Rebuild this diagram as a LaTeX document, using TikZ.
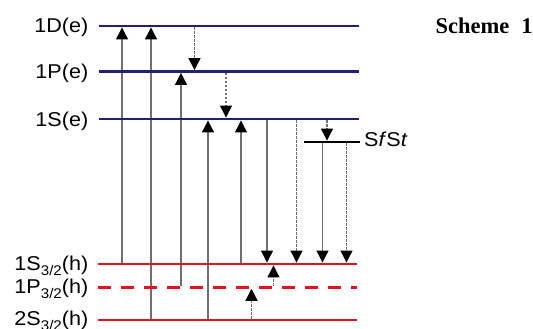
\documentclass[tikz,border=0pt]{standalone}
\usepackage{fontspec}
\setmainfont{Liberation Sans}
\newfontfamily\labfont[FakeStretch=1.08]{Liberation Sans}
\newfontfamily\titlefont{Liberation Serif}
\usetikzlibrary{arrows.meta}

\definecolor{elevel}{RGB}{35,31,115}
\definecolor{hlevel}{RGB}{228,20,30}
\definecolor{shaft}{RGB}{112,112,112}

\tikzset{
  lvl/.style={minimum width=#1, minimum height=2.9pt, inner sep=0pt, outer sep=0pt},
  lab/.style={inner sep=0pt, font=\labfont\fontsize{20}{24}\selectfont},
  solidarrow/.style={draw=shaft, line width=1.2pt,
    -{Triangle[length=12pt,width=12pt,color=black]}},
  dotarrow/.style={solidarrow, dash pattern=on 2.5pt off 1.5pt},
}
\newcommand{\subhalf}{\raisebox{-5pt}{\fontsize{14}{14}\selectfont 3/2}}

\begin{document}
\begin{tikzpicture}[x=1pt,y=-1pt]
\useasboundingbox (0,0) rectangle (533,329);

% energy levels (electron states, SfSt trap, hole states)
\node[lvl=260pt] (eD) at (229,26) {};
\node[lvl=260pt] (eP) at (229,71.5) {};
\node[lvl=260pt] (eS) at (229,119) {};
\node[lvl=56pt]  (tr) at (332,142) {};
\node[lvl=259pt] (hS) at (227.5,264) {};
\node[lvl=259pt] (hP) at (227.5,287.3) {};
\node[lvl=259pt] (h2) at (227.5,320) {};

% columns of the transitions
\coordinate (c1) at (122,0);
\coordinate (c2) at (151,0);
\coordinate (c3) at (181,0);
\coordinate (c4) at (194.5,0);
\coordinate (c5) at (208,0);
\coordinate (c6) at (226,0);
\coordinate (c7) at (241,0);
\coordinate (c8) at (251.5,0);
\coordinate (c9) at (267,0);
\coordinate (c10) at (273.5,0);
\coordinate (c11) at (296.5,0);
\coordinate (c12) at (322.5,0);
\coordinate (c13) at (327,0);
\coordinate (c14) at (346.5,0);

% absorption
\draw[solidarrow] (c1 |- hS.north) -- (c1 |- eD.south);
\draw[solidarrow] (c2 |- h2.north) -- (c2 |- eD.south);
\draw[solidarrow] (c3 |- hP.north) -- (c3 |- eP.south);
\draw[solidarrow] (c5 |- h2.north) -- (c5 |- eS.south);
\draw[solidarrow] (c7 |- hS.north) -- (c7 |- eS.south);

% relaxation
\draw[dotarrow] (c4 |- eD.south) -- (c4 |- eP.north);
\draw[dotarrow] (c6 |- eP.south) -- (c6 |- eS.north);
\draw[dotarrow] (c13 |- eS.south) -- (c13 |- tr.north);
\draw[dotarrow] (c8 |- h2.north) -- (c8 |- hP.south);
\draw[dotarrow] (c10 |- hP.north) -- (c10 |- hS.south);

% emission
\draw[solidarrow] (c9 |- eS.south) -- (c9 |- hS.north);
\draw[dotarrow] (c11 |- eS.south) -- (c11 |- hS.north);
\draw[solidarrow] (c12 |- tr.south) -- (c12 |- hS.north);
\draw[dotarrow] (c14 |- tr.south) -- (c14 |- hS.north);

% level lines on top
\fill[elevel] (eD.north west) rectangle (eD.south east);
\fill[elevel] (eP.north west) rectangle (eP.south east);
\fill[elevel] (eS.north west) rectangle (eS.south east);
\fill[black] (tr.north west) rectangle (tr.south east);
\fill[hlevel] (hS.north west) rectangle (hS.south east);
\draw[hlevel, line width=2.9pt, dash pattern=on 13pt off 10pt] (hP.west) -- (hP.east);
\fill[hlevel] (h2.north west) rectangle (h2.south east);

% labels
\node[lab, anchor=base east] (tD) at (88.5,33) {1D(e)};
\node[lab, anchor=base east] (tP) at (88.5,78.5) {1P(e)};
\node[lab, anchor=base east] (tS) at (88.5,126) {1S(e)};
\node[lab, anchor=base east] (tHS) at (88.5,270.5) {1S\subhalf(h)};
\node[lab, anchor=base east] (tHP) at (88.5,293.8) {1P\subhalf(h)};
\node[lab, anchor=base east] (tH2) at (88.5,325.5) {2S\subhalf(h)};
\node[lab, anchor=base west] (tTr) at (364,146.5) {S\textit{f}S\textit{t}};
\node[inner sep=0pt, anchor=base west, font=\titlefont\bfseries\fontsize{22.5}{26}\selectfont]
  (title) at (435.5,33.5) {Scheme\hspace{12pt}1};
\end{tikzpicture}
\end{document}
